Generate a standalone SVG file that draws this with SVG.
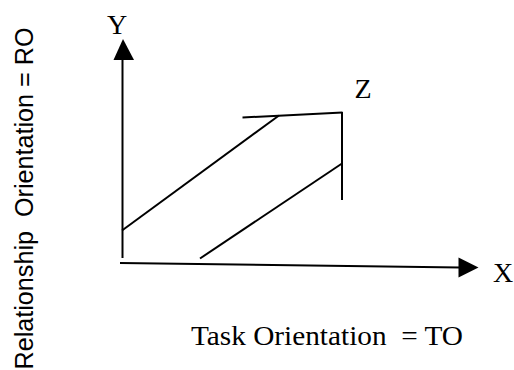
<svg xmlns="http://www.w3.org/2000/svg" width="514" height="370" viewBox="0 0 514 370">
<style>
.ln{stroke:#000;stroke-width:2;fill:none;stroke-linecap:butt}
.ah{fill:#000}
.lbl{font-family:"Liberation Serif","Times New Roman",serif;font-size:28px;fill:#000}
.side{font-family:"Liberation Sans",Arial,sans-serif;font-size:26px;fill:#000}
</style>
<rect width="514" height="370" fill="#fff"/>
<g id="connectors">
<line class="ln" x1="122.5" y1="258" x2="122.5" y2="58"/>
<polygon class="ah" points="123,39 113.5,60 134,60"/>
<line class="ln" x1="120" y1="263" x2="460" y2="267.5"/>
<polygon class="ah" points="478.5,267.5 458.5,257.5 458.5,277.5"/>
<line class="ln" x1="122" y1="230.5" x2="279" y2="115.5"/>
<line class="ln" x1="242.5" y1="117.5" x2="342.5" y2="112.5"/>
<line class="ln" x1="342" y1="112" x2="342" y2="200"/>
<line class="ln" x1="200" y1="258.5" x2="342" y2="163.5"/>
</g>
<g id="axis-y"><text class="lbl" x="117" y="34" text-anchor="middle">Y</text></g>
<g id="axis-x"><text class="lbl" x="503" y="282" text-anchor="middle">X</text></g>
<g id="point-z"><text class="lbl" x="363" y="98" text-anchor="middle">Z</text></g>
<g id="x-title"><text class="lbl" x="191" y="345" textLength="272" lengthAdjust="spacingAndGlyphs" xml:space="preserve">Task Orientation  = TO</text></g>
<g id="y-title"><text class="side" transform="translate(33,369.5) rotate(-90)" x="0" y="0" textLength="342" lengthAdjust="spacingAndGlyphs" xml:space="preserve">Relationship  Orientation = RO</text></g>
</svg>
